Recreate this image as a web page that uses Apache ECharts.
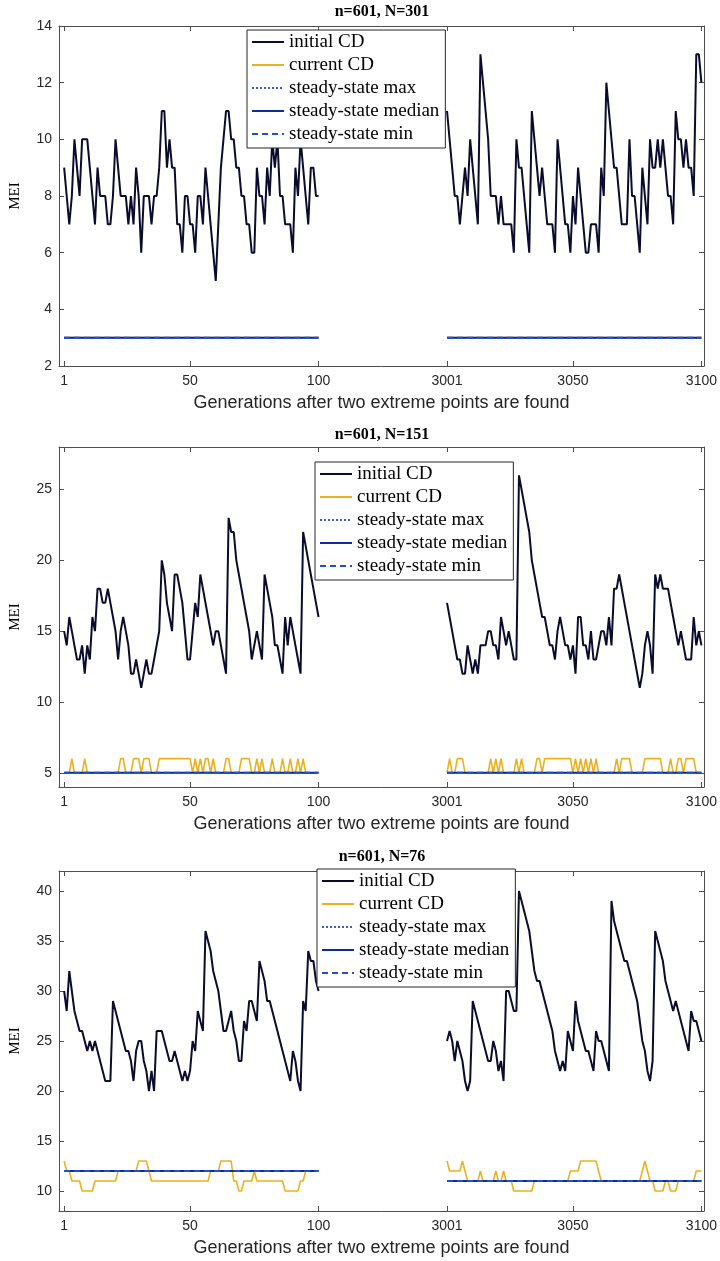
<!DOCTYPE html>
<html>
<head>
<meta charset="utf-8">
<title>MEI</title>
<script src="https://cdn.jsdelivr.net/npm/echarts@6/dist/echarts.min.js"></script>
<style>
  html, body { margin: 0; padding: 0; background: #fff; }
  #main { width: 720px; height: 1261px; }
</style>
</head>
<body>
<div id="main"></div>
<script>
// generations on the x axis: the first 100, then 3001..3100
const gensA = Array.from({ length: 100 }, (_, i) => i + 1);
const gensB = Array.from({ length: 100 }, (_, i) => i + 3001);
const tickGens = [1, 50, 100, 3001, 3050, 3100];

const titles = ['n=601, N=301', 'n=601, N=151', 'n=601, N=76'];
const seriesNames = ['initial CD', 'current CD', 'steady-state max', 'steady-state median', 'steady-state min'];

// panel 1: n=601, N=301
const init1A = [9,8,7,8,10,9,8,10,10,10, 9,8,7,9,8,8,8,7,7,8, 10,9,8,8,8,7,8,7,9,8, 6,8,8,8,7,8,8,9,11,11,
  9,10,9,9,7,7,6,8,8,7, 7,6,8,8,7,9,8,7,6,5, 7,9,10,11,11,10,10,9,9,8, 8,7,7,6,6,9,8,8,7,9,
  8,10,9,10,8,8,7,7,7,6, 9,8,10,9,8,7,9,9,8,8];
const init1B = [11,10,9,8,8,7,8,9,8,10, 9,8,7,13,12,11,10,8,8,8, 7,8,7,7,7,7,6,10,9,9, 8,7,6,11,10,9,8,9,8,7,
  7,7,6,10,9,8,7,7,6,8, 7,9,8,7,6,6,7,7,7,6, 9,8,12,11,10,9,9,8,7,7, 7,10,8,8,7,6,9,8,7,10,
  9,9,10,9,10,9,8,8,7,11, 10,10,9,10,9,9,8,13,13,12];
const cur1A = [3,3,3,3,3,3,3,3,3,3, 3,3,3,3,3,3,3,3,3,3, 3,3,3,3,3,3,3,3,3,3, 3,3,3,3,3,3,3,3,3,3,
  3,3,3,3,3,3,3,3,3,3, 3,3,3,3,3,3,3,3,3,3, 3,3,3,3,3,3,3,3,3,3, 3,3,3,3,3,3,3,3,3,3,
  3,3,3,3,3,3,3,3,3,3, 3,3,3,3,3,3,3,3,3,3];
const cur1B = [3,3,3,3,3,3,3,3,3,3, 3,3,3,3,3,3,3,3,3,3, 3,3,3,3,3,3,3,3,3,3, 3,3,3,3,3,3,3,3,3,3,
  3,3,3,3,3,3,3,3,3,3, 3,3,3,3,3,3,3,3,3,3, 3,3,3,3,3,3,3,3,3,3, 3,3,3,3,3,3,3,3,3,3,
  3,3,3,3,3,3,3,3,3,3, 3,3,3,3,3,3,3,3,3,3];
// steady-state values per segment [first 100, last 100]
const ssMax1 = [3, 3];
const ssMed1 = [3, 3];
const ssMin1 = [3, 3];

// panel 2: n=601, N=151
const init2A = [15,14,16,15,14,13,13,14,12,14, 13,16,15,18,18,17,17,18,17,16, 15,13,15,16,15,14,12,12,13,12,
  11,12,13,12,12,13,14,15,20,19, 17,16,15,19,19,18,17,15,13,13, 15,17,16,19,18,17,16,15,14,15,
  15,14,13,12,23,22,22,20,19,18, 17,16,15,13,14,15,14,13,19,18, 17,16,14,14,13,12,16,14,16,15,
  14,13,12,22,21,20,19,18,17,16];
const init2B = [17,16,15,14,13,13,12,12,14,13, 12,13,12,14,14,14,15,15,14,14, 13,16,15,14,15,14,13,13,26,25,
  24,23,22,20,19,18,17,16,16,15, 14,14,13,15,16,15,14,14,13,14, 12,16,16,14,14,13,15,13,13,14,
  15,15,14,16,14,18,18,19,18,17, 16,15,14,13,12,11,12,14,15,14, 12,19,18,19,18,18,18,17,16,15,
  14,15,14,13,13,13,16,14,15,14];
const cur2A = [5,5,5,6,5,5,5,5,6,5, 5,5,5,5,5,5,5,5,5,5, 5,5,6,6,5,5,5,6,6,6, 5,6,6,6,5,5,5,6,6,6,
  6,6,6,6,6,6,6,6,6,6, 5,6,5,6,5,6,6,5,6,5, 5,5,5,6,6,5,5,5,5,6, 6,6,6,5,5,6,5,6,5,5,
  5,6,5,5,5,6,5,5,6,5, 5,6,5,6,5,5,5,5,5,5];
const cur2B = [5,6,5,5,6,6,6,5,5,5, 5,5,5,5,5,5,5,6,5,6, 5,6,5,5,5,5,5,6,5,6, 5,5,5,5,5,6,6,5,6,6,
  6,6,6,6,6,6,6,6,6,5, 6,5,6,5,6,5,6,5,6,5, 5,5,5,5,5,5,6,5,6,6, 6,6,5,5,5,5,5,6,6,6,
  6,6,6,6,5,5,5,6,5,5, 6,6,5,6,6,6,6,5,5,5];
const ssMax2 = [5, 5];
const ssMed2 = [5, 5];
const ssMin2 = [5, 5];

// panel 3: n=601, N=76
const init3A = [30,28,32,30,28,27,26,26,25,24, 25,24,25,24,23,22,21,21,21,29, 28,27,26,25,24,24,23,21,24,25,
  25,23,22,20,22,20,26,26,26,25, 24,23,23,24,23,22,21,22,21,22, 25,24,28,27,26,36,35,34,32,31,
  30,28,26,26,27,28,26,25,23,23, 27,26,29,29,28,27,33,32,31,29, 29,28,27,26,25,24,23,22,21,24,
  23,21,20,29,28,34,33,33,31,30];
const init3B = [25,26,25,23,25,24,23,21,20,21, 29,28,27,26,25,24,23,23,25,24, 22,23,21,30,30,29,28,28,40,39,
  38,37,36,34,32,31,31,30,29,28, 27,26,24,23,22,23,22,26,25,24, 29,27,26,25,24,24,23,22,26,25,
  25,24,23,22,39,37,36,35,34,33, 33,32,31,30,29,27,25,24,22,21, 23,36,35,34,33,31,30,29,28,29,
  28,27,26,25,24,28,27,27,26,25];
const cur3A = [13,12,12,11,11,11,11,10,10,10, 10,10,11,11,11,11,11,11,11,11, 11,12,12,12,12,12,12,12,12,13,
  13,13,13,12,11,11,11,11,11,11, 11,11,11,11,11,11,11,11,11,11, 11,11,11,11,11,11,11,12,12,12,
  12,13,13,13,13,13,11,11,10,10, 11,11,11,11,12,11,11,11,11,11, 11,11,11,11,11,11,10,10,10,10,
  10,10,11,11,12,12,12,12,12,12];
const cur3B = [13,12,12,12,12,12,13,12,11,11, 11,11,11,12,11,11,11,11,11,12, 11,11,12,11,11,11,10,10,10,10,
  10,10,10,10,11,11,11,11,11,11, 11,11,11,11,11,11,11,11,12,12, 12,12,13,13,13,13,13,13,13,12,
  11,11,11,11,11,11,11,11,11,11, 11,11,11,11,11,11,12,13,12,11, 11,10,10,10,10,11,11,10,10,10,
  11,11,11,11,11,11,11,12,12,12];
const ssMax3 = [12, 11];
const ssMed3 = [12, 11];
const ssMin3 = [12, 11];

const yRange = [[2, 14], [4, 28], [8, 42]];
const yTicks = [[2, 4, 6, 8, 10, 12, 14], [5, 10, 15, 20, 25], [10, 15, 20, 25, 30, 35, 40]];

// the gap between generation 100 and 3001 is drawn as 50 axis units
const toAxis = g => (g > 100 ? g - 2851 : g);
const fromAxis = v => (v > 100 ? v + 2851 : v);
const tickX = tickGens.map(toAxis);

const sans = 'Liberation Sans, Arial, sans-serif';
const serif = 'Liberation Serif, Times New Roman, serif';
const axisColor = '#4d4d4d';
const labelColor = '#262626';

const gridTop = [26, 447, 871];
const gridH = 340;
const titleTop = [4, 427, 849];
const legendPos = [[247, 30], [315, 462], [317, 869]];

const styles = [
  { color: '#0b0b2e', width: 2, type: 'solid' },
  { color: '#EDB120', width: 1.6, type: 'solid' },
  { color: '#3a5cd0', width: 1.5, type: 'dotted' },
  { color: '#0b2e9f', width: 2, type: 'solid' },
  { color: '#1f4fd8', width: 2, type: [6, 4] }
];

const panels = [
  { init: [init1A, init1B], cur: [cur1A, cur1B], ss: [ssMax1, ssMed1, ssMin1] },
  { init: [init2A, init2B], cur: [cur2A, cur2B], ss: [ssMax2, ssMed2, ssMin2] },
  { init: [init3A, init3B], cur: [cur3A, cur3B], ss: [ssMax3, ssMed3, ssMin3] }
];

function linePts(vals, gens) {
  return gens.map((g, i) => [toAxis(g), vals[i]]);
}
function flatPts(v, gens) {
  return [[toAxis(gens[0]), v], [toAxis(gens[gens.length - 1]), v]];
}

const grid = [], xAxis = [], yAxis = [], series = [], title = [], legend = [];

panels.forEach((p, i) => {
  grid.push({ left: 59, right: 14, top: gridTop[i], height: gridH });

  ['bottom', 'top'].forEach(pos => {
    xAxis.push({
      type: 'value', gridIndex: i, position: pos, min: -1, max: 250,
      axisLine: { show: true, onZero: false, lineStyle: { color: axisColor, width: 1 } },
      axisTick: { show: true, inside: true, length: 5, customValues: tickX, lineStyle: { color: axisColor } },
      axisLabel: {
        show: pos === 'bottom', customValues: tickX, formatter: v => String(fromAxis(v)),
        margin: 8, color: labelColor, fontSize: 14, fontFamily: sans
      },
      splitLine: { show: false },
      name: pos === 'bottom' ? 'Generations after two extreme points are found' : '',
      nameLocation: 'middle', nameGap: 28,
      nameTextStyle: { color: labelColor, fontSize: 18, fontFamily: sans }
    });
  });

  ['left', 'right'].forEach(pos => {
    yAxis.push({
      type: 'value', gridIndex: i, position: pos, min: yRange[i][0], max: yRange[i][1],
      axisLine: { show: true, onZero: false, lineStyle: { color: axisColor, width: 1 } },
      axisTick: { show: true, inside: true, length: 5, customValues: yTicks[i], lineStyle: { color: axisColor } },
      axisLabel: {
        show: pos === 'left', customValues: yTicks[i], margin: 7,
        color: labelColor, fontSize: 14, fontFamily: sans
      },
      splitLine: { show: false },
      name: pos === 'left' ? 'MEI' : '',
      nameLocation: 'middle', nameGap: 36, nameRotate: 90,
      nameTextStyle: { color: '#000', fontSize: 15, fontFamily: serif }
    });
  });

  const xi = i * 2, yi = i * 2;
  const segs = [gensA, gensB];
  segs.forEach((gens, s) => {
    const datas = [
      linePts(p.init[s], gens),
      linePts(p.cur[s], gens),
      flatPts(p.ss[0][s], gens),
      flatPts(p.ss[1][s], gens),
      flatPts(p.ss[2][s], gens)
    ];
    datas.forEach((d, k) => {
      series.push({
        name: seriesNames[k], type: 'line', xAxisIndex: xi, yAxisIndex: yi,
        data: d, symbol: 'none', silent: true, z: 2 + k,
        lineStyle: styles[k], itemStyle: { color: styles[k].color }
      });
    });
  });

  title.push({
    text: titles[i], left: 382, top: titleTop[i], textAlign: 'center', padding: 0,
    textStyle: { fontFamily: serif, fontWeight: 'bold', fontSize: 16, color: '#000' }
  });

  legend.push({
    data: seriesNames, orient: 'vertical', left: legendPos[i][0], top: legendPos[i][1],
    itemWidth: 32, itemHeight: 12, itemGap: 4, padding: [2.5, 6, 4.5, 4],
    backgroundColor: '#fff', borderColor: '#262626', borderWidth: 1,
    selectedMode: false,
    // hide the marker dot, keep only the line sample
    itemStyle: { opacity: 0 },
    textStyle: { fontFamily: serif, fontSize: 19, lineHeight: 19, color: '#000' }
  });
});

const myChart = echarts.init(document.getElementById('main'), null, { renderer: 'canvas' });
myChart.setOption({
  animation: false,
  backgroundColor: '#fff',
  title, legend, grid, xAxis, yAxis, series
});
</script>
</body>
</html>
